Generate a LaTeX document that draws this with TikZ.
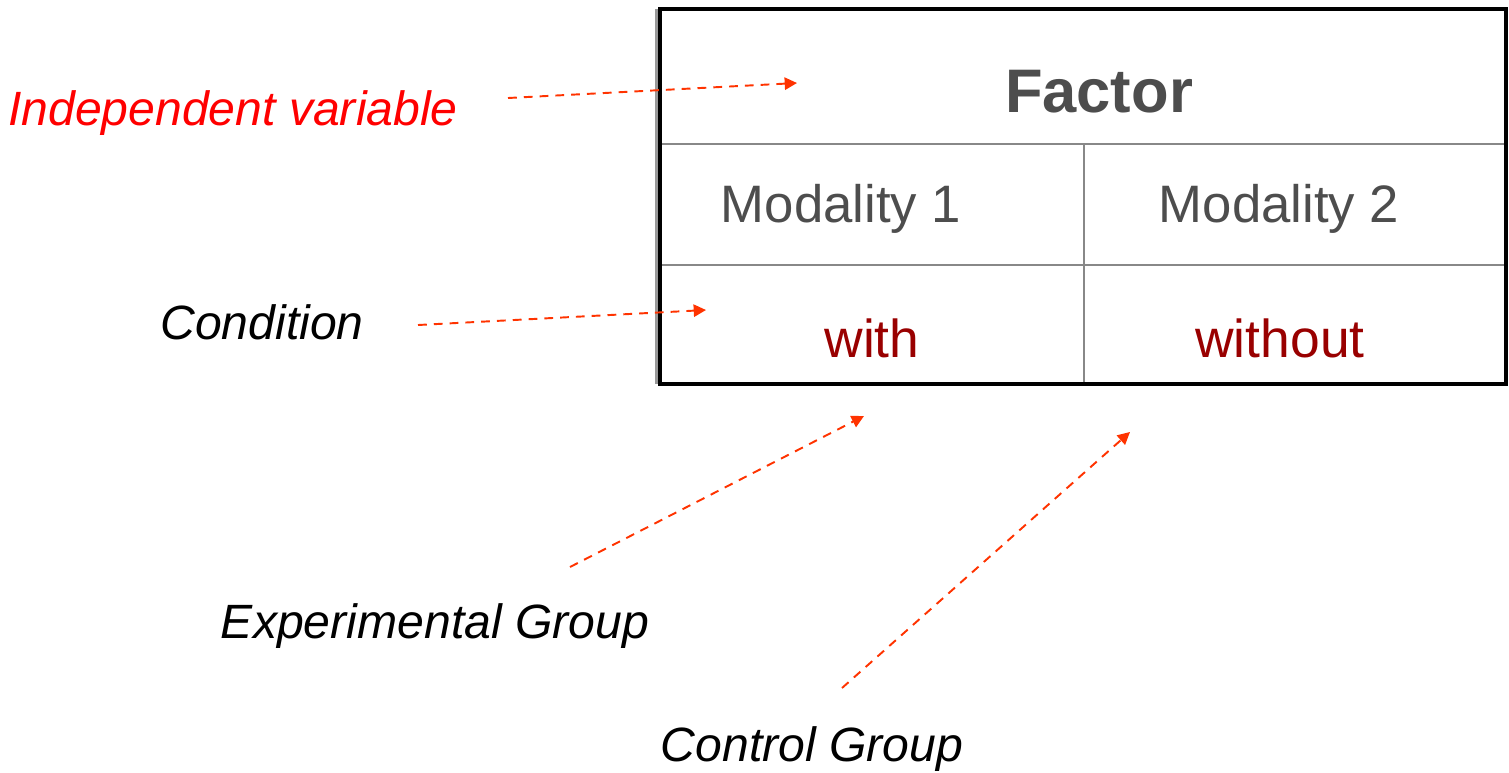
\documentclass[tikz,border=0pt]{standalone}
\usepackage{fontspec}
\setmainfont{Liberation Sans}
\usetikzlibrary{arrows.meta}
\definecolor{arrowred}{HTML}{FF3300}
\definecolor{txtgray}{HTML}{4D4D4D}
\definecolor{darkred}{HTML}{990000}
\definecolor{linegray}{HTML}{888888}
\tikzset{
  lbl/.style={anchor=base, inner sep=0pt, font=\fontsize{27.4}{32}\selectfont\itshape},
  celltxt/.style={anchor=base, inner sep=0pt, font=\fontsize{30}{34}\selectfont, text=txtgray},
  condtxt/.style={anchor=base, inner sep=0pt, font=\fontsize{30.4}{35}\selectfont, text=darkred},
  pointer/.style={draw=arrowred, line width=1.1pt, dash pattern=on 5pt off 4pt, -{Triangle[length=7pt,width=7pt]}},
  grid/.style={draw=linegray, line width=1.2pt},
  frame/.style={draw=black, line width=2.3pt}
}
\begin{document}
\begin{tikzpicture}[x=0.02cm, y=-0.02cm]
\useasboundingbox (0,0) rectangle (1509,772);
% table
\coordinate (tl) at (660,9);
\coordinate (br) at (1506,384);
\draw[draw=gray!80, line width=1.2pt] (656.5,9) -- (656.5,384);
\draw[grid] (660,144) -- (1506,144);
\draw[grid] (660,265) -- (1506,265);
\draw[grid] (1084,144) -- (1084,384);
\draw[frame] (tl) rectangle (br);
\node[anchor=base, inner sep=0pt, font=\fontsize{35}{40}\selectfont\bfseries, text=txtgray] (factor) at (1099,112) {Factor};
\node[celltxt] (m1) at (841,222) {Modality 1};
\node[celltxt] (m2) at (1279,222) {Modality 2};
\node[condtxt] (with) at (872,357) {with};
\node[condtxt] (without) at (1280,357) {without};
% labels
\node[lbl, text=red] (iv) at (233,125) {Independent variable};
\node[lbl] (cond) at (262,339) {Condition};
\node[lbl] (exp) at (435,638) {Experimental Group};
\node[lbl] (ctrl) at (812,761) {Control Group};
% pointer coordinates
\coordinate (ivs) at (508,98);
\coordinate (ive) at (797,83);
\coordinate (cs) at (418,325);
\coordinate (ce) at (706,310);
\coordinate (es) at (570,567);
\coordinate (ee) at (864,416);
\coordinate (ks) at (842,688);
\coordinate (ke) at (1130,432);
\draw[pointer] (ivs) -- (ive);
\draw[pointer] (cs) -- (ce);
\draw[pointer] (es) -- (ee);
\draw[pointer] (ks) -- (ke);
\end{tikzpicture}
\end{document}
